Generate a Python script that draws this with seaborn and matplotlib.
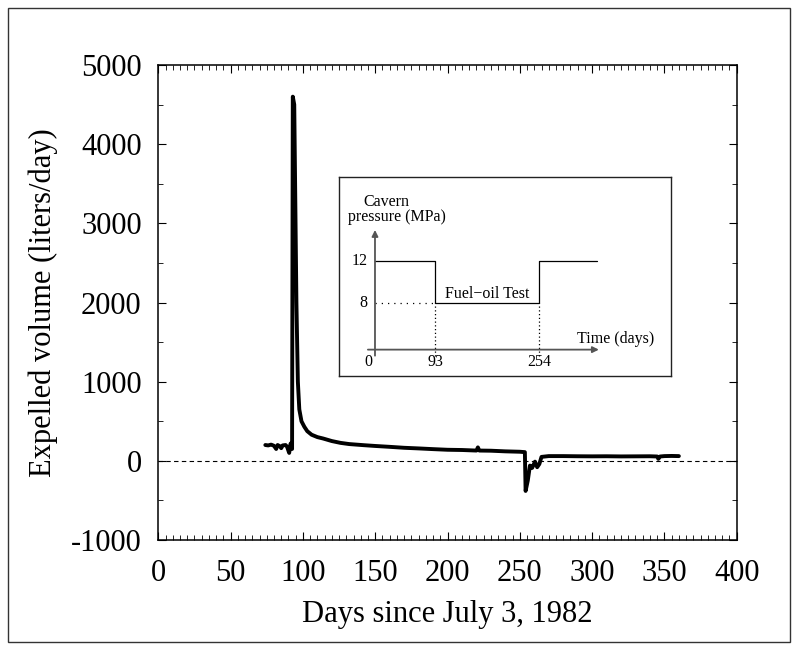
import matplotlib
matplotlib.use("Agg")
import matplotlib.pyplot as plt
import seaborn as sns
import pandas as pd
from matplotlib.patches import Rectangle
from matplotlib.ticker import MultipleLocator

# expelled volume
days = [74, 76, 78, 80, 81.5, 82.5, 84, 85, 86, 88, 89, 90.5, 91.5, 92.5,
        93, 94, 95.5, 96.5, 97.5, 99, 101, 103, 106, 110, 114, 120, 126,
        132, 142, 150, 160, 170, 180, 190, 200, 210, 220, 221, 222, 230,
        240, 250, 253.5, 254, 255.5, 257, 258.5, 260.5, 262, 263.5, 265,
        270, 280, 290, 300, 310, 320, 330, 340, 345, 345.8, 347, 350, 355, 360]
volume = [200, 195, 205, 190, 150, 200, 185, 160, 195, 200, 180, 100, 220, 150,
          4600, 4500, 2000, 1000, 650, 500, 430, 375, 330, 300, 282, 250, 227,
          212, 198, 188, 177, 165, 157, 148, 140, 137, 130, 170, 130, 128,
          120, 115, 110, -380, -250, -60, -90, -10, -80, -40, 50,
          60, 60, 58, 57, 58, 56, 57, 58, 55, 25, 55, 60, 62, 60]

# schematic of the cavern pressure history
step_days = [0, 93, 93, 254, 254, 344]
step_pressure = [12, 12, 8, 8, 12, 12]
pressure_ticks = [12, 8]
time_ticks = [93, 254]

sns.set_style("ticks")
plt.rcParams['font.family'] = ['Liberation Serif', 'DejaVu Serif']
plt.rcParams['axes.unicode_minus'] = False
plt.rcParams['text.color'] = 'black'
plt.rcParams['axes.labelcolor'] = 'black'
plt.rcParams['xtick.color'] = 'black'
plt.rcParams['ytick.color'] = 'black'

fig = plt.figure(figsize=(7.98, 6.5), dpi=100)
fig.patches.append(Rectangle((0.01, 0.012), 0.98, 0.976, transform=fig.transFigure,
                             fill=False, edgecolor="#333333", lw=1.0))

ax = fig.add_axes([0.1984, 0.1692, 0.7248, 0.7308])
df = pd.DataFrame({"day": days, "volume": volume})
sns.lineplot(data=df, x="day", y="volume", estimator=None, sort=False,
             color="black", lw=2.8, ax=ax)
ax.axhline(0, color="black", lw=0.8, ls=(0, (4, 3)))

ax.set_xlim(0, 400)
ax.set_ylim(-1000, 5000)
ax.xaxis.set_major_locator(MultipleLocator(50))
ax.xaxis.set_minor_locator(MultipleLocator(5))
ax.yaxis.set_major_locator(MultipleLocator(1000))
ax.yaxis.set_minor_locator(MultipleLocator(500))
ax.tick_params(which="both", direction="in", top=True, right=True, colors="black")
ax.tick_params(which="major", length=6, width=0.8, labelsize=22)
ax.tick_params(which="minor", length=3.5, width=0.6)
ax.tick_params(axis="x", which="major", pad=14)
ax.tick_params(axis="y", which="major", pad=12)
for s in ax.spines.values():
    s.set_color("black")
    s.set_linewidth(1.1)
ax.set_xlabel("Days since July 3, 1982", fontsize=22, labelpad=8)
ax.set_ylabel("Expelled volume (liters/day)", fontsize=22, labelpad=9)

# inset
ins = fig.add_axes([0.4248, 0.4208, 0.4157, 0.3069])
ins.set_xlim(-55.8, 458.4)
ins.set_ylim(0.95, 20.04)
ins.set_xticks([])
ins.set_yticks([])
for s in ins.spines.values():
    s.set_color("#222222")
    s.set_linewidth(1.0)

axis_y = 3.52
grey = "#555555"
ins.annotate("", xy=(347, axis_y), xytext=(-11, axis_y),
             arrowprops=dict(arrowstyle="-|>", color=grey, lw=1.3,
                             mutation_scale=9, shrinkA=0, shrinkB=0))
ins.annotate("", xy=(0, 14.97), xytext=(0, 2.94),
             arrowprops=dict(arrowstyle="-|>", color=grey, lw=1.3,
                             mutation_scale=9, shrinkA=0, shrinkB=0))
ins.plot(step_days, step_pressure, color="black", lw=0.9)
ins.plot([0, 93], [8, 8], color="black", lw=0.9, ls=(0, (1, 4)))
ins.vlines(time_ticks, 2.9, 8, color="black", lw=0.9, ls=(0, (1, 2)))

fs = 11.5
for p in pressure_ticks:
    ins.text(-12, p, str(p), ha="right", va="center", fontsize=fs)
ins.text(-10.5, 2.3, "0", ha="center", va="center", fontsize=fs)
for t in time_ticks:
    ins.text(t, 2.3, str(t), ha="center", va="center", fontsize=fs)
ins.text(18, 17.67, "Cavern", ha="center", va="center", fontsize=fs)
ins.text(34, 16.24, "pressure (MPa)", ha="center", va="center", fontsize=fs)
ins.text(173.6, 8.8, "Fuel\u2212oil Test", ha="center", va="center", fontsize=fs)
ins.text(373.6, 4.5, "Time (days)", ha="center", va="center", fontsize=fs)

fig.savefig("out.png", dpi=100)
